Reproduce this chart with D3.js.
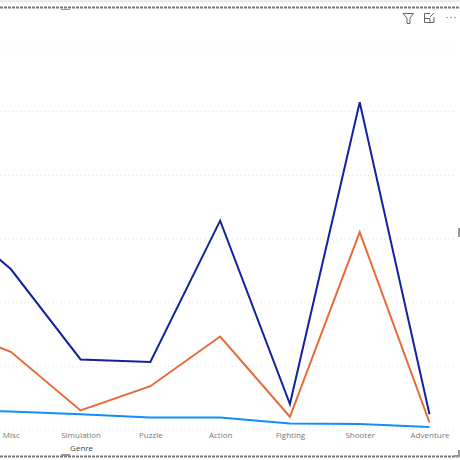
<!doctype html>
<html>
<head>
<meta charset="UTF-8">
<script src="https://d3js.org/d3.v7.min.js"></script>
<title></title>
<style>
    html, body { margin: 0; padding: 0; background: #fff; overflow: hidden; }
    svg { display: block; }
    text { font-family: "Open Sans", sans-serif; }
</style>
</head>
<body>
<div id="graph"></div>
<script>
// first category sits left of the visible area, the chart is cropped there
var categories = ["Sports", "Misc", "Simulation", "Puzzle", "Action", "Fighting", "Shooter", "Adventure"];
var visibleCategories = ["Misc", "Simulation", "Puzzle", "Action", "Fighting", "Shooter", "Adventure"];
var navyValues = [173, 126, 55, 53, 164, 20, 257, 12];
var orangeValues = [82, 61, 15, 34, 73, 10, 155, 5.5];
var blueValues = [14.7, 14.2, 12, 9.5, 9.4, 4.7, 4.3, 2];
var gridTicks = [0, 50, 100, 150, 200, 250, 300];

var w = 460, h = 460;

var x = d3.scalePoint().domain(categories).range([-59, 429.5]);
var y = d3.scaleLinear().domain([0, 300]).range([429.5, 47.5]);

var vis = d3.select("#graph").append("svg")
    .attr("width", w)
    .attr("height", h);

// light band along the top edge
vis.append("rect").attr("x", 0).attr("y", 0).attr("width", w).attr("height", 2).attr("fill", "#eee");

// gridlines
vis.append("g")
    .call(d3.axisLeft(y).tickValues(gridTicks).tickSize(-w).tickFormat(""))
    .attr("transform", "translate(" + w + ",0)")
    .call(function(g) { g.select(".domain").remove(); })
    .selectAll("line")
    .attr("x1", -w)
    .attr("x2", -4)
    .attr("stroke", "#e2e2e2")
    .attr("stroke-width", 1)
    .attr("stroke-dasharray", "1 3");

// x labels
var xAxis = vis.append("g")
    .attr("transform", "translate(0,429.5)")
    .call(d3.axisBottom(x).tickValues(visibleCategories).tickSize(0).tickPadding(3));
xAxis.select(".domain").remove();
xAxis.selectAll("text")
    .attr("font-size", 8)
    .attr("font-family", "'Open Sans', sans-serif")
    .attr("fill", "#777");

vis.append("text")
    .attr("x", x("Simulation") + 1)
    .attr("y", 450.5)
    .attr("text-anchor", "middle")
    .attr("font-size", 8)
    .attr("fill", "#444")
    .text("Genre");

var line = d3.line()
    .x(function(d, i) { return x(categories[i]); })
    .y(function(d) { return y(d); });

var series = [
    { values: navyValues, color: "#12239e" },
    { values: orangeValues, color: "#e66c37" },
    { values: blueValues, color: "#118dff" }
];

vis.selectAll(".series")
    .data(series)
    .enter()
    .append("path")
    .attr("class", "series")
    .attr("fill", "none")
    .attr("stroke", function(d) { return d.color; })
    .attr("stroke-width", 2)
    .attr("stroke-linejoin", "miter")
    .attr("d", function(d) { return line(d.values); });

// visual frame, dotted top and bottom edges
[7.5, 456.5].forEach(function(ey) {
    vis.append("line")
        .attr("x1", 0).attr("x2", w)
        .attr("y1", ey).attr("y2", ey)
        .attr("stroke", "#777")
        .attr("stroke-width", 2)
        .attr("stroke-dasharray", "3 1");
});

// resize handles
vis.append("rect").attr("x", 61).attr("y", 9).attr("width", 9).attr("height", 1).attr("fill", "#999");
vis.append("rect").attr("x", 61).attr("y", 454).attr("width", 9).attr("height", 2).attr("fill", "#999");
vis.append("rect").attr("x", 458).attr("y", 228).attr("width", 2).attr("height", 9).attr("fill", "#999");
vis.append("path").attr("d", "M454 456H459V450").attr("fill", "none").attr("stroke", "#999").attr("stroke-width", 2);

// header icons
var icons = vis.append("g").attr("fill", "none").attr("stroke", "#666").attr("stroke-width", 1);
icons.append("path").attr("d", "M403 13.5H413.5L410 18V23.5H407V18Z");
icons.append("path").attr("d", "M424.5 22.5V13.5H430M424.5 18.5H430V22.5H424.5M434 13L430 17M434 17V22.5H430");
[447, 451, 455].forEach(function(cx) {
    vis.append("circle").attr("cx", cx).attr("cy", 17.5).attr("r", 0.7).attr("fill", "#777");
});
</script>
</body>
</html>
